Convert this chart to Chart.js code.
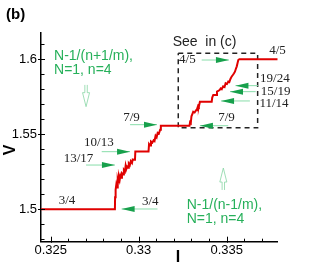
<!DOCTYPE html>
<html>
<head>
<meta charset="utf-8">
<script src="https://cdn.jsdelivr.net/npm/chart.js@4.4.0/dist/chart.umd.min.js"></script>
<style>
  body { margin: 0; background: #fff; }
</style>
</head>
<body>
<canvas id="ivChart" width="316" height="273"></canvas>
<script>
// current I (x) and voltage V (y) of the red trace
var currentI = [0.32445, 0.32865, 0.32866, 0.32869, 0.32873, 0.32877, 0.32881, 0.32884, 0.32888, 0.32892,
    0.32896, 0.32901, 0.32905, 0.32911, 0.32916, 0.32922, 0.32926, 0.32930, 0.32935, 0.32940,
    0.32944, 0.32950, 0.32955, 0.32962, 0.32966, 0.32972, 0.32979, 0.32981, 0.33056, 0.33059,
    0.33065, 0.33070, 0.33078, 0.33085, 0.33090, 0.33096, 0.33102, 0.33108, 0.33115, 0.33122,
    0.33126, 0.33289, 0.33292, 0.33296, 0.33300, 0.33305, 0.33310, 0.33318, 0.33326, 0.33331,
    0.33338, 0.33342, 0.33348, 0.33415, 0.33418, 0.33424, 0.33440, 0.33445, 0.33460, 0.33466,
    0.33472, 0.33480, 0.33488, 0.33494, 0.33502, 0.33509, 0.33515, 0.33522, 0.33528, 0.33535,
    0.33541, 0.33547, 0.33552, 0.33557, 0.33562, 0.33566, 0.33572, 0.3379]
var voltageV = [1.5, 1.5, 1.508, 1.513, 1.5165, 1.5145, 1.5195, 1.518, 1.5215, 1.5195,
    1.5225, 1.521, 1.524, 1.5232, 1.5262, 1.5252, 1.529, 1.5268, 1.5285, 1.5277,
    1.5305, 1.5295, 1.532, 1.5308, 1.5332, 1.533, 1.533, 1.5385, 1.5385, 1.5435,
    1.5425, 1.5452, 1.5445, 1.546, 1.5455, 1.549, 1.548, 1.551, 1.5505, 1.553,
    1.5557, 1.5557, 1.558, 1.5575, 1.562, 1.5635, 1.565, 1.5645, 1.566, 1.5665,
    1.569, 1.5685, 1.5717, 1.5717, 1.5745, 1.5762, 1.5762, 1.5785, 1.5795, 1.5805,
    1.58, 1.582, 1.5815, 1.584, 1.5835, 1.5851, 1.5848, 1.587, 1.5884, 1.5895,
    1.5905, 1.5917, 1.5935, 1.5951, 1.5975, 1.5995, 1.6, 1.6]

var xTicks = [0.325, 0.33, 0.335]
var yTicks = [1.5, 1.55, 1.6]
var xMinorTicks = [0.326, 0.327, 0.328, 0.329, 0.331, 0.332, 0.333, 0.334, 0.336, 0.337]
var yMinorTicks = [1.48, 1.49, 1.51, 1.52, 1.53, 1.54, 1.56, 1.57, 1.58, 1.59, 1.61]

// dashed "see in (c)" box
var boxI = [0.33225, 0.33676, 0.33676, 0.33225, 0.33225]
var boxV = [1.604, 1.604, 1.5543, 1.5543, 1.604]

// step labels: text, label I, label V, arrow tail I, arrow tip I, arrow V
var stepLabels = ['7/9', '10/13', '13/17', '3/4', '3/4', '4/5', '4/5', '19/24', '15/19', '11/14', '7/9']
var labelI = [0.32959, 0.32774, 0.32658, 0.32593, 0.33066, 0.33277, 0.33789, 0.33774, 0.33778, 0.33769, 0.33499]
var labelV = [1.5612, 1.5445, 1.5339, 1.5059, 1.5050, 1.5995, 1.6055, 1.5869, 1.5787, 1.5704, 1.5609]
var arrowTailI = [0.32951, 0.32790, 0.32701, null, 0.33107, 0.33358, null, 0.33678, 0.33665, 0.33632, 0.33509]
var arrowTipI = [0.33104, 0.32951, 0.32865, null, 0.32903, 0.33513, null, 0.33550, 0.33519, 0.33468, 0.33348]
var arrowV = [1.5564, 1.5384, 1.5295, null, 1.5002, 1.5995, null, 1.5824, 1.5784, 1.5722, 1.5557]

var points = currentI.map(function (v, i) { return {x: v, y: voltageV[i]} })
var boxPoints = boxI.map(function (v, i) { return {x: v, y: boxV[i]} })

var green = '#26b05a'

function arrowHead(ctx, x1, y1, x2, y2, len, half, color) {
    var a = Math.atan2(y2 - y1, x2 - x1)
    ctx.fillStyle = color
    ctx.beginPath()
    ctx.moveTo(x2, y2)
    ctx.lineTo(x2 - len * Math.cos(a) - half * Math.sin(a), y2 - len * Math.sin(a) + half * Math.cos(a))
    ctx.lineTo(x2 - len * Math.cos(a) + half * Math.sin(a), y2 - len * Math.sin(a) - half * Math.cos(a))
    ctx.closePath()
    ctx.fill()
}

function hollowArrow(ctx, x, yTail, yTip) {
    var dir = yTip > yTail ? 1 : -1
    var headLen = 14, half = 3.5, shaft = 1.2
    var yBase = yTip - dir * headLen
    ctx.strokeStyle = '#88d6a4'
    ctx.lineWidth = 0.8
    ctx.beginPath()
    ctx.moveTo(x - shaft, yTail)
    ctx.lineTo(x - shaft, yBase)
    ctx.lineTo(x - half, yBase)
    ctx.lineTo(x, yTip)
    ctx.lineTo(x + half, yBase)
    ctx.lineTo(x + shaft, yBase)
    ctx.lineTo(x + shaft, yTail)
    ctx.stroke()
}

var extras = {
    id: 'extras',
    afterDraw: function (chart) {
        var ctx = chart.ctx
        var xs = chart.scales.x
        var ys = chart.scales.y
        var area = chart.chartArea
        ctx.save()

        // inward ticks
        ctx.strokeStyle = '#000'
        ctx.lineWidth = 1
        ctx.beginPath()
        xTicks.forEach(function (v) {
            var px = Math.round(xs.getPixelForValue(v)) + 0.5
            ctx.moveTo(px, area.bottom + 1)
            ctx.lineTo(px, area.bottom - 5)
        })
        xMinorTicks.forEach(function (v) {
            var px = Math.round(xs.getPixelForValue(v)) + 0.5
            ctx.moveTo(px, area.bottom)
            ctx.lineTo(px, area.bottom - 3)
        })
        yTicks.forEach(function (v) {
            var py = Math.round(ys.getPixelForValue(v)) + 0.5
            ctx.moveTo(area.left - 3, py)
            ctx.lineTo(area.left + 4, py)
        })
        yMinorTicks.forEach(function (v) {
            var py = Math.round(ys.getPixelForValue(v)) + 0.5
            ctx.moveTo(area.left, py)
            ctx.lineTo(area.left + 3.5, py)
        })
        ctx.stroke()

        // step labels and arrows
        ctx.font = '13px "Liberation Serif"'
        ctx.textAlign = 'center'
        ctx.textBaseline = 'middle'
        stepLabels.forEach(function (t, i) {
            ctx.fillStyle = '#222'
            ctx.fillText(t, xs.getPixelForValue(labelI[i]), ys.getPixelForValue(labelV[i]))
            if (arrowTailI[i] === null) return
            var x1 = xs.getPixelForValue(arrowTailI[i])
            var x2 = xs.getPixelForValue(arrowTipI[i])
            var y = ys.getPixelForValue(arrowV[i])
            ctx.strokeStyle = '#88ddaa'
            ctx.lineWidth = 1
            ctx.beginPath()
            ctx.moveTo(x1, y)
            ctx.lineTo(x2, y)
            ctx.stroke()
            arrowHead(ctx, x1, y, x2, y, 13, 3, '#17a04c')
        })

        // green annotations
        ctx.fillStyle = green
        ctx.font = '14px "Liberation Sans"'
        ctx.textAlign = 'left'
        var lx = xs.getPixelForValue(0.32519)
        ctx.fillText('N-1/(n+1/m),', lx, ys.getPixelForValue(1.6022))
        ctx.fillText('N=1, n=4', lx, ys.getPixelForValue(1.5929))
        var rx = xs.getPixelForValue(0.33273)
        ctx.fillText('N-1/(n-1/m),', rx, ys.getPixelForValue(1.5029))
        ctx.fillText('N=1, n=4', rx, ys.getPixelForValue(1.4935))
        hollowArrow(ctx, xs.getPixelForValue(0.32701), ys.getPixelForValue(1.5829), ys.getPixelForValue(1.5684))
        hollowArrow(ctx, xs.getPixelForValue(0.33481), ys.getPixelForValue(1.5129), ys.getPixelForValue(1.5275))

        ctx.fillStyle = '#222'
        ctx.font = '14px "Liberation Sans"'
        ctx.fillText('See  in (c)', xs.getPixelForValue(0.33193), ys.getPixelForValue(1.6115))

        // panel label and axis titles
        ctx.fillStyle = '#000'
        ctx.font = 'bold 15px "Liberation Sans"'
        ctx.fillText('(b)', 6, 15)
        ctx.textAlign = 'center'
        ctx.font = 'bold 16px "Liberation Sans"'
        ctx.fillText('I', 178, 258)
        ctx.translate(11, 150)
        ctx.rotate(-Math.PI / 2)
        ctx.fillText('V', 0, 0)
        ctx.restore()
    }
}

var ivChart = new Chart(document.getElementById('ivChart').getContext('2d'), {
    type: 'scatter',
    data: {
        datasets: [
            {
                data: points,
                showLine: true,
                borderColor: '#e00000',
                borderWidth: 2,
                pointRadius: 0,
                tension: 0
            },
            {
                data: boxPoints,
                showLine: true,
                borderColor: '#222',
                borderWidth: 1.5,
                borderDash: [5, 4],
                pointRadius: 0,
                tension: 0
            }
        ]
    },
    options: {
        responsive: false,
        animation: false,
        layout: {padding: {top: 33, right: 38.3, left: 0, bottom: 0}},
        plugins: {legend: {display: false}, tooltip: {enabled: false}},
        scales: {
            x: {
                type: 'linear',
                min: 0.32445,
                max: 0.3379,
                afterFit: function (s) { s.height = 31.3 },
                afterBuildTicks: function (s) { s.ticks = xTicks.map(function (v) { return {value: v} }) },
                ticks: {
                    color: '#000',
                    padding: 1,
                    maxRotation: 0,
                    font: {family: 'Liberation Sans', size: 13},
                    callback: function (v) { return String(v) }
                },
                grid: {display: false, drawTicks: false},
                border: {display: true, color: '#000', width: 1.5}
            },
            y: {
                type: 'linear',
                min: 1.4784,
                max: 1.6175,
                afterFit: function (s) { s.width = 41 },
                afterBuildTicks: function (s) { s.ticks = yTicks.map(function (v) { return {value: v} }) },
                ticks: {
                    color: '#000',
                    padding: 4,
                    font: {family: 'Liberation Sans', size: 13},
                    callback: function (v) { return String(v) }
                },
                grid: {display: false, drawTicks: false},
                border: {display: true, color: '#000', width: 1.5}
            }
        }
    },
    plugins: [extras]
})
</script>
</body>
</html>
